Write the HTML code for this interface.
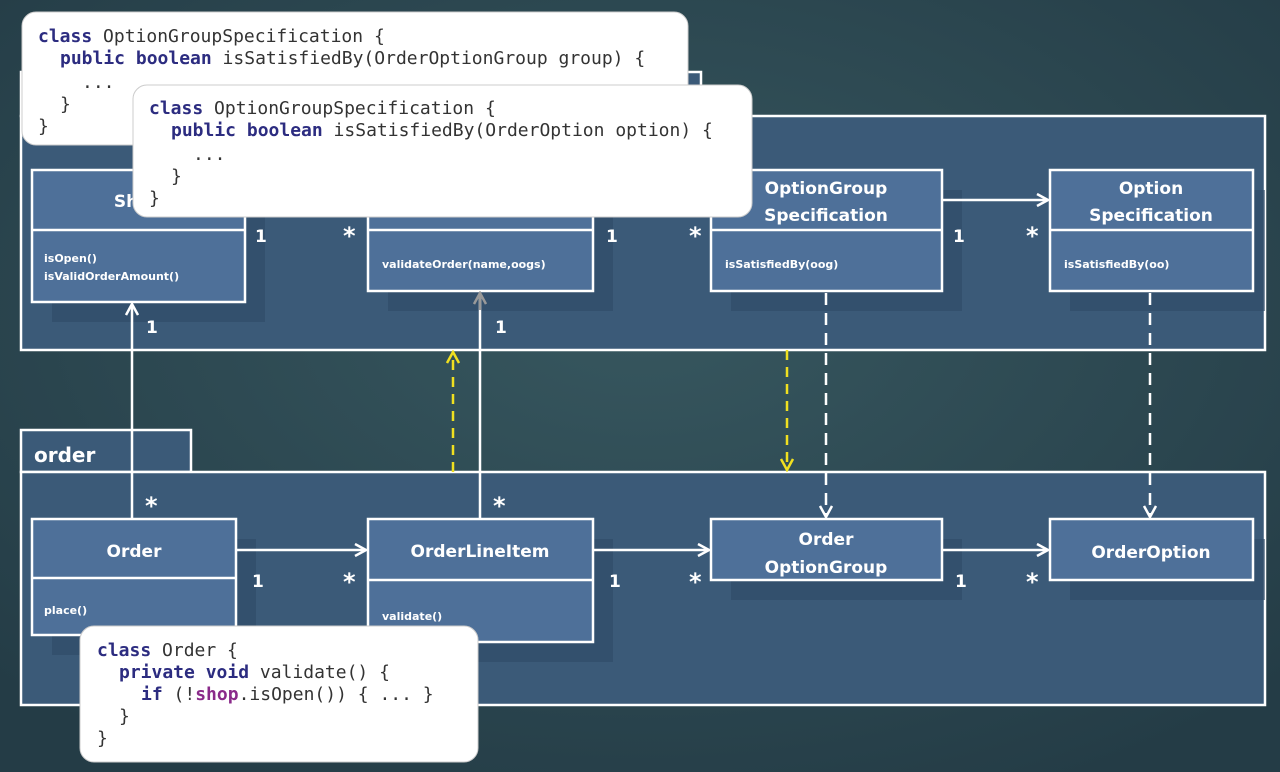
<!DOCTYPE html>
<html><head><meta charset="utf-8"><style>
html,body{margin:0;padding:0;}
body{width:1280px;height:772px;overflow:hidden;background:#2b4651;}
svg{display:block}
.cls{font-family:"DejaVu Sans","Liberation Sans",sans-serif;fill:#fff;}
.code{font-family:"DejaVu Sans Mono","Liberation Mono",monospace;font-size:18px;fill:#333;}
.kw{fill:#2c2c80;font-weight:bold;}
</style></head><body>
<svg width="1280" height="772" viewBox="0 0 1280 772" xmlns="http://www.w3.org/2000/svg">
<defs>
<radialGradient id="bg" cx="50%" cy="40%" r="70%"><stop offset="0" stop-color="#37575f"/><stop offset="1" stop-color="#243c46"/></radialGradient>
<marker id="ah" markerWidth="14" markerHeight="14" refX="12" refY="7" orient="auto" markerUnits="userSpaceOnUse"><path d="M1,1 L12,7 L1,13" fill="none" stroke="#fff" stroke-width="2.5"/></marker>
<marker id="ahg" markerWidth="14" markerHeight="14" refX="12" refY="7" orient="auto" markerUnits="userSpaceOnUse"><path d="M1,1 L12,7 L1,13" fill="none" stroke="#999" stroke-width="2.5"/></marker>
<marker id="ahy" markerWidth="14" markerHeight="14" refX="12" refY="7" orient="auto" markerUnits="userSpaceOnUse"><path d="M1,1 L12,7 L1,13" fill="none" stroke="#f0e020" stroke-width="2.5"/></marker>
</defs>
<rect width="1280" height="772" fill="url(#bg)"/>
<rect x="21" y="72" width="680" height="44" fill="#3b5a78" stroke="#fff" stroke-width="2.5"/>
<rect x="21" y="116" width="1244" height="234" fill="#3b5a78" stroke="#fff" stroke-width="2.5"/>
<rect x="21" y="430" width="170" height="42" fill="#3b5a78" stroke="#fff" stroke-width="2.5"/>
<text x="34" y="462" class="cls" font-size="20" font-weight="bold">order</text>
<rect x="21" y="472" width="1244" height="233" fill="#3b5a78" stroke="#fff" stroke-width="2.5"/>
<g fill="#2f4a66" opacity="0.6">
<rect x="52" y="190" width="213" height="132"/><rect x="388" y="190" width="225" height="121"/>
<rect x="731" y="190" width="231" height="121"/><rect x="1070" y="190" width="195" height="121"/>
<rect x="52" y="539" width="204" height="116"/><rect x="388" y="539" width="225" height="123"/>
<rect x="731" y="539" width="231" height="61"/><rect x="1070" y="539" width="195" height="61"/>
</g>
<g stroke="#fff" stroke-width="2.5" fill="#4e7099">
<rect x="32" y="170" width="213" height="132"/><line x1="32" y1="230" x2="245" y2="230"/>
<rect x="368" y="170" width="225" height="121"/><line x1="368" y1="230" x2="593" y2="230"/>
<rect x="711" y="170" width="231" height="121"/><line x1="711" y1="230" x2="942" y2="230"/>
<rect x="1050" y="170" width="203" height="121"/><line x1="1050" y1="230" x2="1253" y2="230"/>
<rect x="32" y="519" width="204" height="116"/><line x1="32" y1="578" x2="236" y2="578"/>
<rect x="368" y="519" width="225" height="123"/><line x1="368" y1="580" x2="593" y2="580"/>
<rect x="711" y="519" width="231" height="61"/>
<rect x="1050" y="519" width="203" height="61"/>
</g>
<g class="cls" font-size="17" font-weight="bold" text-anchor="middle">
<text x="138" y="207">Shop</text>
<text x="826" y="194">OptionGroup</text><text x="826" y="221">Specification</text>
<text x="1151" y="194">Option</text><text x="1151" y="221">Specification</text>
<text x="134" y="557">Order</text>
<text x="480" y="557">OrderLineItem</text>
<text x="826" y="545">Order</text><text x="826" y="573">OptionGroup</text>
<text x="1151" y="558">OrderOption</text>
</g>
<g class="cls" font-size="11" font-weight="bold">
<text x="44" y="262">isOpen()</text><text x="44" y="280">isValidOrderAmount()</text>
<text x="382" y="268">validateOrder(name,oogs)</text>
<text x="725" y="268">isSatisfiedBy(oog)</text>
<text x="1064" y="268">isSatisfiedBy(oo)</text>
<text x="44" y="614">place()</text>
<text x="382" y="620">validate()</text>
</g>
<g stroke="#fff" stroke-width="2.5" fill="none">
<line x1="942" y1="200" x2="1048" y2="200" marker-end="url(#ah)"/>
<line x1="236" y1="550" x2="366" y2="550" marker-end="url(#ah)"/>
<line x1="593" y1="550" x2="709" y2="550" marker-end="url(#ah)"/>
<line x1="942" y1="550" x2="1048" y2="550" marker-end="url(#ah)"/>
<line x1="132" y1="519" x2="132" y2="304" marker-end="url(#ah)"/>
<line x1="480" y1="519" x2="480" y2="298"/>
<line x1="826" y1="293" x2="826" y2="517" stroke-dasharray="12,8" marker-end="url(#ah)"/>
<line x1="1150" y1="293" x2="1150" y2="517" stroke-dasharray="12,8" marker-end="url(#ah)"/>
</g>
<line x1="480" y1="310" x2="480" y2="293" stroke="#999" stroke-width="2.5" marker-end="url(#ahg)"/>
<line x1="453" y1="472" x2="453" y2="352" stroke="#f0e020" stroke-width="2.5" stroke-dasharray="10,7" marker-end="url(#ahy)"/>
<line x1="787" y1="350" x2="787" y2="470" stroke="#f0e020" stroke-width="2.5" stroke-dasharray="10,7" marker-end="url(#ahy)"/>
<g class="cls" font-size="17" font-weight="bold">
<text x="255" y="242">1</text><text x="606" y="242">1</text><text x="953" y="242">1</text>
<text x="146" y="333">1</text><text x="495" y="333">1</text>
<text x="252" y="587">1</text><text x="609" y="587">1</text><text x="955" y="587">1</text>
</g>
<g class="cls" font-size="24" font-weight="bold">
<text x="343" y="244">*</text><text x="689" y="244">*</text><text x="1026" y="244">*</text>
<text x="145" y="514">*</text><text x="493" y="514">*</text>
<text x="343" y="590">*</text><text x="689" y="590">*</text><text x="1026" y="590">*</text>
</g>
<rect x="22" y="12" width="666" height="133" rx="14" fill="#fff" stroke="#ccc"/>
<g class="code">
<text x="38" y="42"><tspan class="kw">class</tspan> OptionGroupSpecification {</text>
<text x="60" y="64"><tspan class="kw">public boolean</tspan> isSatisfiedBy(OrderOptionGroup group) {</text>
<text x="82" y="88">...</text>
<text x="60" y="110">}</text>
<text x="38" y="132">}</text>
</g>
<rect x="133" y="85" width="619" height="132" rx="14" fill="#fff" stroke="#ccc"/>
<g class="code">
<text x="149" y="114"><tspan class="kw">class</tspan> OptionGroupSpecification {</text>
<text x="171" y="136"><tspan class="kw">public boolean</tspan> isSatisfiedBy(OrderOption option) {</text>
<text x="193" y="160">...</text>
<text x="171" y="182">}</text>
<text x="149" y="204">}</text>
</g>
<rect x="80" y="626" width="398" height="136" rx="14" fill="#fff" stroke="#ccc"/>
<g class="code">
<text x="97" y="656"><tspan class="kw">class</tspan> Order {</text>
<text x="119" y="678"><tspan class="kw">private void</tspan> validate() {</text>
<text x="141" y="700"><tspan class="kw">if</tspan> (!<tspan fill="#8a2a8a" font-weight="bold">shop</tspan>.isOpen()) { ... }</text>
<text x="119" y="722">}</text>
<text x="97" y="744">}</text>
</g>
</svg>
</body></html>
